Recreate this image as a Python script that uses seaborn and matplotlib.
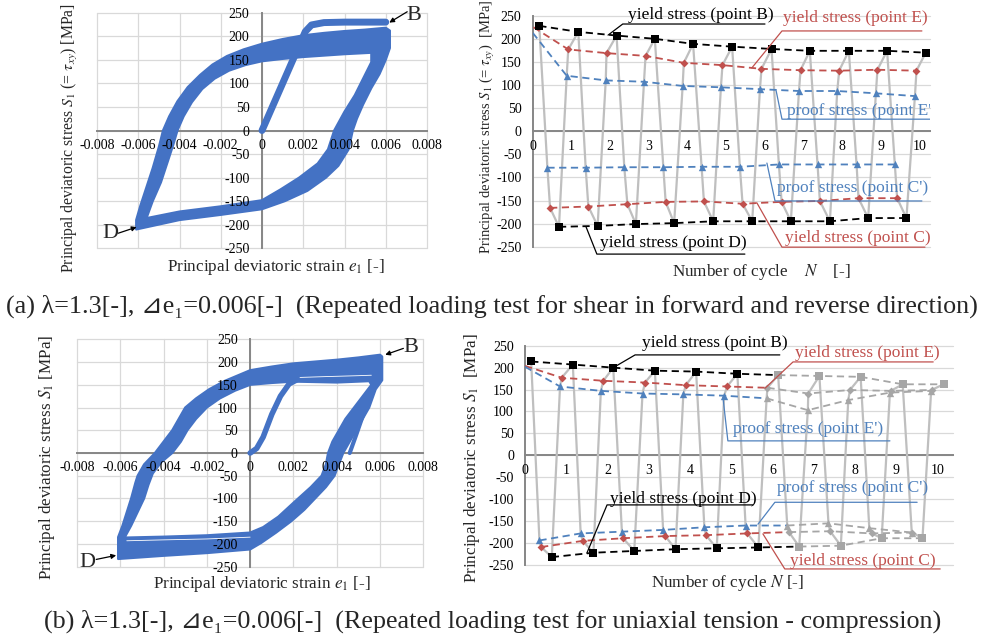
import numpy as np
import matplotlib
matplotlib.use("Agg")
import matplotlib.pyplot as plt
import seaborn as sns
from matplotlib.path import Path
from matplotlib.patches import PathPatch

sns.set_theme(style="white")
plt.rcParams["font.family"] = ["Liberation Serif", "DejaVu Serif", "DejaVu Sans", "Noto Sans CJK JP"]
plt.rcParams["mathtext.fontset"] = "stix"
plt.rcParams["axes.unicode_minus"] = False

# ---------------- data: hysteresis loops (strain e1 [-], stress S1 [MPa]) ----------------
strain_ticks = [-0.008, -0.006, -0.004, -0.002, 0.0, 0.002, 0.004, 0.006, 0.008]
stress_ticks = [-250, -200, -150, -100, -50, 0, 50, 100, 150, 200, 250]
cycle_ticks = [0, 1, 2, 3, 4, 5, 6, 7, 8, 9, 10]

# (a) shear: outer / inner edge of the band of cycles, first loading
a_outer_e = [-0.0061, -0.0061, -0.0059, -0.0056, -0.0053, -0.0050, -0.0048, -0.0045, -0.0041, -0.0036,
             -0.0030, -0.0024, -0.0017, -0.0009, 0.0000, 0.0010, 0.0020, 0.0030, 0.0040, 0.0050,
             0.0060, 0.0062, 0.0062, 0.0060, 0.0057, 0.0053, 0.0049, 0.0046, 0.0044, 0.0042,
             0.0037, 0.0031, 0.0022, 0.0011, 0.0000, -0.0020, -0.0040, -0.0061]
a_outer_s = [-210, -190, -160, -120, -80, -35, 0, 30, 62, 92,
             118, 140, 158, 172, 184, 194, 202, 207, 211, 214,
             218, 212, 175, 150, 120, 90, 55, 25, 0, -40,
             -75, -100, -128, -150, -167, -179, -190, -210]
a_inner_e = [-0.0056, -0.0053, -0.0049, -0.0046, -0.0043, -0.0041, -0.0038, -0.0034, -0.0029, -0.0023,
             -0.0016, -0.0008, 0.0000, 0.0010, 0.0020, 0.0030, 0.0040, 0.0053, 0.0053, 0.0049,
             0.0045, 0.0040, 0.0035, 0.0032, 0.0027, 0.0018, 0.0009, 0.0000, -0.0020, -0.0040, -0.0056]
a_inner_s = [-186, -150, -110, -70, -30, 0, 30, 60, 88, 110,
             127, 139, 147, 152, 156, 159, 162, 165, 145, 110,
             75, 40, 0, -40, -70, -100, -125, -148, -161, -172, -186]
a_first_e = [0.0, 0.0005, 0.0010, 0.0015, 0.0019, 0.0021, 0.0024, 0.0030, 0.0040, 0.0050, 0.0060]
a_first_s = [0, 50, 100, 150, 190, 210, 224, 229, 230, 230, 230]

# (b) tension-compression
b_outer_e = [-0.0061, -0.0061, -0.0059, -0.0057, -0.0055, -0.0053, -0.0052, -0.0049, -0.0044, -0.0040,
             -0.0036, -0.0033, -0.0030, -0.0025, -0.0019, -0.0012, -0.0006, 0.0000, 0.0010, 0.0020,
             0.0030, 0.0040, 0.0050, 0.0060, 0.0061, 0.0061, 0.0058, 0.0055, 0.0052, 0.0049,
             0.0046, 0.0043, 0.0041, 0.0039, 0.0035, 0.0030, 0.0025, 0.0019, 0.0012, 0.0005,
             0.0000, -0.0020, -0.0040, -0.0061]
b_outer_s = [-233, -185, -160, -130, -100, -65, -50, -25, 0, 25,
             50, 75, 100, 120, 140, 158, 170, 182, 190, 197,
             201, 205, 210, 216, 212, 160, 140, 100, 75, 50,
             25, 0, -25, -50, -75, -100, -125, -150, -175, -198,
             -212, -220, -226, -233]
b_inner_e = [-0.0058, -0.0055, -0.0052, -0.0049, -0.0047, -0.0045, -0.0041, -0.0036, -0.0032, -0.0029,
             -0.0025, -0.0020, -0.0014, -0.0007, 0.0000, 0.0010, 0.0020, 0.0030, 0.0040, 0.0055,
             0.0056, 0.0052, 0.0048, 0.0044, 0.0041, 0.0038, 0.0036, 0.0035, 0.0033, 0.0028,
             0.0021, 0.0013, 0.0006, 0.0000, -0.0020, -0.0040, -0.0058]
b_inner_s = [-186, -160, -130, -100, -70, -45, -20, 0, 25, 50,
             75, 100, 120, 137, 150, 154, 157, 156, 155, 158,
             150, 125, 100, 75, 50, 25, 0, -25, -50, -75,
             -105, -140, -163, -175, -181, -184, -186]
b_gap_lower_e = [-0.0057, -0.0040, -0.0020, 0.0000]
b_gap_lower_s = [-193, -191, -189, -185]
b_gap_upper_e = [0.0022, 0.0035, 0.0050, 0.0056]
b_gap_upper_s = [166, 168, 170, 171]
b_first_e = [0.0, 0.0003, 0.0006, 0.0010, 0.0014, 0.0018, 0.0022]
b_first_s = [0, 10, 35, 85, 125, 152, 162]
b_final_e = [0.0058, 0.0053, 0.0049, 0.0046]
b_final_s = [150, 95, 40, 0]

# ---------------- data: characteristic stresses vs. number of cycle ----------------
# (a)
a_B_N = [0.17, 1.18, 2.17, 3.16, 4.15, 5.16, 6.18, 7.17, 8.18, 9.17, 10.17]
a_B_S = [228, 215, 207, 200, 189, 183, 178, 174, 174, 174, 170]
a_E_N = [0.02, 0.92, 1.91, 2.92, 3.91, 4.91, 5.92, 6.93, 7.93, 8.92, 9.93]
a_E_S = [225, 177, 169, 163, 148, 143, 135, 132, 131, 133, 131]
a_Ep_N = [0.0, 0.88, 1.89, 2.88, 3.88, 4.87, 5.88, 6.89, 7.88, 8.88, 9.89]
a_Ep_S = [213, 120, 110, 107, 98, 95, 91, 87, 87, 82, 76]
a_Cp_N = [0.38, 1.37, 2.37, 3.38, 4.37, 5.36, 6.37, 7.37, 8.38, 9.37]
a_Cp_S = [-79, -79, -78, -78, -77, -77, -72, -72, -72, -72]
a_C_N = [0.45, 1.44, 2.45, 3.44, 4.43, 5.43, 6.44, 7.43, 8.43, 9.43]
a_C_S = [-166, -163, -158, -153, -152, -157, -153, -151, -145, -145]
a_D_N = [0.68, 1.68, 2.67, 3.66, 4.67, 5.68, 6.68, 7.69, 8.68, 9.67]
a_D_S = [-207, -205, -201, -199, -195, -195, -195, -195, -188, -188]
# (b)
b_B_N = [0.15, 1.16, 2.14, 3.15, 4.15, 5.15, 6.14, 7.14, 8.14, 9.16, 10.15]
b_B_S = [214, 207, 200, 193, 191, 186, 183, 181, 179, 162, 162]
b_E_N = [0.0, 0.89, 1.90, 2.91, 3.90, 4.90, 5.88, 6.87, 7.88, 8.87, 9.86]
b_E_S = [204, 177, 170, 166, 160, 157, 154, 141, 149, 147, 149]
b_Ep_N = [0.0, 0.85, 1.84, 2.85, 3.84, 4.83, 5.86, 6.86, 7.84, 8.85, 9.85]
b_Ep_S = [202, 157, 147, 141, 139, 136, 130, 103, 126, 143, 147]
b_Cp_N = [0.35, 1.35, 2.35, 3.35, 4.35, 5.35, 6.36, 7.36, 8.35, 9.38]
b_Cp_S = [-194, -178, -174, -170, -164, -160, -160, -155, -166, -176]
b_C_N = [0.39, 1.40, 2.38, 3.40, 4.39, 5.39, 6.40, 7.40, 8.41, 9.39]
b_C_S = [-209, -195, -189, -184, -182, -178, -175, -173, -178, -176]
b_D_N = [0.65, 1.66, 2.65, 3.65, 4.65, 5.66, 6.65, 7.66, 8.65, 9.64]
b_D_S = [-232, -222, -218, -214, -212, -210, -208, -206, -189, -189]
b_n_colored = 6   # points drawn in colour in (b); later cycles are grey

caption_a = "(a) \u03bb=1.3[-], \u22bfe\u2081=0.006[-]  (Repeated loading test for shear in forward and reverse direction)"
caption_b = "(b) \u03bb=1.3[-], \u22bfe\u2081=0.006[-]  (Repeated loading test for uniaxial tension - compression)"

# ---------------- styles ----------------
BAND = "#4472C4"
RED = "#C0504D"
BLUE = "#4F81BD"
GRAY = "#BFBFBF"
GRAYM = "#A6A6A6"
AXC = "#868686"
GRIDC = "#D9D9D9"
W, H = 984, 637

fig = plt.figure(figsize=(W / 100, H / 100), dpi=100)


def add_ax(x0, x1, y0, y1):
    return fig.add_axes([x0 / W, 1 - y1 / H, (x1 - x0) / W, (y1 - y0) / H])


axA1 = add_ax(97, 427, 12.7, 248.3)
axA2 = add_ax(532.7, 930, 15.7, 246.7)
axB1 = add_ax(77, 423.3, 339.3, 566.7)
axB2 = add_ax(525, 953, 345.7, 565)


def fmt_strain(v):
    return "0" if abs(v) < 1e-12 else f"{v:.3f}"


def common_style(ax):
    ax.set_ylim(-250, 250)
    ax.grid(False)
    for v in stress_ticks:
        ax.axhline(v, color=GRIDC, lw=0.9, zorder=0.5, clip_on=False)
    ax.set_yticks(stress_ticks)
    ax.set_yticklabels([str(v) for v in stress_ticks])
    for s in ["top", "right"]:
        ax.spines[s].set_visible(False)
    ax.spines["bottom"].set_position(("data", 0))
    for s in ["left", "bottom"]:
        ax.spines[s].set_color(AXC)
        ax.spines[s].set_linewidth(1.4)
        ax.spines[s].set_zorder(1)
    ax.tick_params(length=0, labelsize=10, labelcolor="black")
    ax.tick_params(axis="x", pad=6)
    ax.xaxis.set_zorder(5)
    ax.yaxis.set_zorder(5)
    ax.patch.set_alpha(0)


def style_loop(ax):
    common_style(ax)
    ax.set_xlim(-0.008, 0.008)
    for v in strain_ticks:
        ax.axvline(v, color=GRIDC, lw=0.9, zorder=0.5, clip_on=False)
    ax.set_xticks(strain_ticks)
    ax.set_xticklabels([fmt_strain(v) for v in strain_ticks])
    ax.spines["left"].set_position(("data", 0))
    ax.tick_params(axis="y", pad=9)


def style_cycle(ax, xmax):
    common_style(ax)
    ax.set_xlim(0, xmax)
    ax.set_xticks(cycle_ticks)
    ax.set_xticklabels([str(v) for v in cycle_ticks])
    ax.tick_params(axis="y", pad=8)


def band(ax, oe, os_, ie, is_):
    outer = np.column_stack([oe, os_])
    inner = np.column_stack([ie, is_])[::-1]
    verts = np.concatenate([outer, outer[:1], inner, inner[:1]])
    codes = ([Path.MOVETO] + [Path.LINETO] * (len(outer) - 1) + [Path.CLOSEPOLY]
             + [Path.MOVETO] + [Path.LINETO] * (len(inner) - 1) + [Path.CLOSEPOLY])
    ax.add_patch(PathPatch(Path(verts, codes), fc=BAND, ec=BAND, lw=1.6, joinstyle="round", zorder=2))


def line(ax, x, y, color, lw, ls="-", zorder=3):
    sns.lineplot(x=x, y=y, sort=False, estimator=None, ax=ax, color=color, lw=lw,
                 linestyle=ls, zorder=zorder, legend=False, solid_joinstyle="round")


def marks(ax, x, y, color, marker, size):
    sns.scatterplot(x=x, y=y, ax=ax, color=color, marker=marker, s=size, linewidth=0,
                    zorder=4, legend=False)


def arrow_label(ax, letter, tx, ty, tail, head):
    ax.text(tx, ty, letter, fontsize=16, ha="center", va="center", clip_on=False, zorder=6)
    ax.annotate("", xy=head, xytext=tail,
                arrowprops=dict(arrowstyle="-|>", color="black", lw=0.9, mutation_scale=7,
                                shrinkA=0, shrinkB=0), annotation_clip=False, zorder=6)


def callout(ax, text, color, tx, ty, ux0, ux1, uy, lx, ly, clip=False):
    ax.plot([lx, ux0, ux1], [ly, uy, uy], color=color, lw=0.9, clip_on=clip, zorder=6)
    ax.text(tx, ty, text, color=color, fontsize=12.5, ha="left", va="center", clip_on=clip, zorder=6)


def cycle_path(Bn, Bs, En, Es, EPn, EPs, CPn, CPs, Cn, Cs, Dn, Ds):
    xs, ys = [], []
    for k in range(len(Bn)):
        if k > 0:
            xs += [EPn[k], En[k]]
            ys += [EPs[k], Es[k]]
        xs.append(Bn[k])
        ys.append(Bs[k])
        if k < len(Dn):
            xs += [CPn[k], Cn[k], Dn[k]]
            ys += [CPs[k], Cs[k], Ds[k]]
    return xs, ys


SQ, DI, TR = 36, 16, 28

# ---------------- (a) left: loop ----------------
style_loop(axA1)
band(axA1, a_outer_e, a_outer_s, a_inner_e, a_inner_s)
line(axA1, a_first_e, a_first_s, BAND, 5)
arrow_label(axA1, "B", 0.00735, 245, (0.00704, 252), (0.00617, 229))
arrow_label(axA1, "D", -0.00737, -219, (-0.00697, -218), (-0.00608, -205))
axA1.text(0.542, -0.079, "Principal deviatoric strain $e_1$ [-]", transform=axA1.transAxes,
          ha="center", va="center", fontsize=12.3)
axA1.text(-0.082, 0.468, r"Principal deviatoric stress $S_1$ (= $\tau_{xy}$) [MPa]",
          transform=axA1.transAxes, ha="center", va="center", rotation=90, fontsize=11.3)

# ---------------- (b) left: loop ----------------
style_loop(axB1)
band(axB1, b_outer_e, b_outer_s, b_inner_e, b_inner_s)
line(axB1, b_gap_lower_e, b_gap_lower_s, "white", 0.6, zorder=2.5)
line(axB1, b_gap_upper_e, b_gap_upper_s, "white", 0.6, zorder=2.5)
line(axB1, b_first_e, b_first_s, BAND, 4)
line(axB1, b_final_e, b_final_s, BAND, 3)
arrow_label(axB1, "B", 0.00744, 232, (0.00708, 230), (0.00624, 216))
arrow_label(axB1, "D", -0.00751, -240, (-0.00711, -234), (-0.00619, -225))
axB1.text(0.533, -0.076, "Principal deviatoric strain $e_1$ [-]", transform=axB1.transAxes,
          ha="center", va="center", fontsize=12.3)
axB1.text(-0.087, 0.482, r"Principal deviatoric stress $S_1$ [MPa]",
          transform=axB1.transAxes, ha="center", va="center", rotation=90, fontsize=12.3)

# ---------------- (a) right: cycles ----------------
style_cycle(axA2, 10.28)
gx, gy = cycle_path(a_B_N, a_B_S, a_E_N, a_E_S, a_Ep_N, a_Ep_S, a_Cp_N, a_Cp_S, a_C_N, a_C_S, a_D_N, a_D_S)
line(axA2, gx, gy, GRAY, 1.6, zorder=2)
dash = (0, (4, 2.5))
line(axA2, a_B_N, a_B_S, "black", 1.3, dash)
marks(axA2, a_B_N, a_B_S, "black", "s", SQ)
line(axA2, a_E_N, a_E_S, RED, 1.3, dash)
marks(axA2, a_E_N[1:], a_E_S[1:], RED, "D", DI)
line(axA2, a_Ep_N, a_Ep_S, BLUE, 1.3, dash)
marks(axA2, a_Ep_N[1:], a_Ep_S[1:], BLUE, "^", TR)
line(axA2, a_Cp_N, a_Cp_S, BLUE, 1.3, dash)
marks(axA2, a_Cp_N, a_Cp_S, BLUE, "^", TR)
line(axA2, a_C_N, a_C_S, RED, 1.3, dash)
marks(axA2, a_C_N, a_C_S, RED, "D", DI)
line(axA2, a_D_N, a_D_S, "black", 1.3, dash)
marks(axA2, a_D_N, a_D_S, "black", "s", SQ)
callout(axA2, "yield stress (point B)", "black", 2.46, 251.5, 2.33, 6.01, 232, 1.95, 208)
callout(axA2, "yield stress (point E)", RED, 6.47, 245, 6.45, 10.07, 217, 5.67, 137)
callout(axA2, "proof stress (point E')", BLUE, 6.58, 43.5, 6.45, 10.28, 26, 6.30, 87, clip=True)
callout(axA2, "proof stress (point C')", BLUE, 6.32, -123, 6.27, 10.07, -151, 6.06, -69)
callout(axA2, "yield stress (point C)", RED, 6.52, -231, 6.45, 10.15, -251, 5.80, -155)
callout(axA2, "yield stress (point D)", "black", 1.74, -242, 1.66, 5.49, -266, 1.38, -207)
axA2.text(0.575, -0.11, r"Number of cycle    $N$    [-]", transform=axA2.transAxes,
          ha="center", va="center", fontsize=12.3)
axA2.text(-0.115, 0.52, r"Principal deviatoric stress $S_1$ (= $\tau_{xy}$)  [MPa]",
          transform=axA2.transAxes, ha="center", va="center", rotation=90, fontsize=10.5)

# ---------------- (b) right: cycles ----------------
style_cycle(axB2, 10.38)
gx, gy = cycle_path(b_B_N, b_B_S, b_E_N, b_E_S, b_Ep_N, b_Ep_S, b_Cp_N, b_Cp_S, b_C_N, b_C_S, b_D_N, b_D_S)
line(axB2, gx, gy, GRAY, 1.6, zorder=2)
n = b_n_colored
series_b = [
    (b_B_N, b_B_S, "black", "s", SQ, 0),
    (b_E_N, b_E_S, RED, "D", DI, 1),
    (b_Ep_N, b_Ep_S, BLUE, "^", TR, 1),
    (b_Cp_N, b_Cp_S, BLUE, "^", TR, 0),
    (b_C_N, b_C_S, RED, "D", DI, 0),
    (b_D_N, b_D_S, "black", "s", SQ, 0),
]
for xs, ys, col, mk, sz, first in series_b:
    line(axB2, xs[n:], ys[n:], GRAYM, 1.3, dash)
    marks(axB2, xs[n:], ys[n:], GRAYM, mk, sz)
    line(axB2, xs[:n + 1], ys[:n + 1], col, 1.3, dash)
    marks(axB2, xs[first:n], ys[first:n], col, mk, sz)
callout(axB2, "yield stress (point B)", "black", 2.84, 256, 2.67, 6.18, 229, 2.16, 201)
callout(axB2, "yield stress (point E)", RED, 6.55, 233, 6.50, 9.90, 213, 5.82, 153)
callout(axB2, "proof stress (point E')", BLUE, 5.04, 60, 4.92, 8.85, 33, 4.80, 133)
callout(axB2, "proof stress (point C')", BLUE, 6.11, -75, 6.06, 9.51, -107, 5.65, -157)
callout(axB2, "yield stress (point C)", RED, 6.43, -241, 6.30, 10.07, -259, 5.77, -179)
callout(axB2, "yield stress (point D)", "black", 2.06, -100, 1.99, 5.53, -113, 1.50, -223)
axB2.text(0.473, -0.082, r"Number of cycle $N$ [-]", transform=axB2.transAxes,
          ha="center", va="center", fontsize=12.3)
axB2.text(-0.124, 0.486, r"Principal deviatoric stress $S_1$  [MPa]",
          transform=axB2.transAxes, ha="center", va="center", rotation=90, fontsize=12.3)

# ---------------- captions ----------------
fig.text(492 / W, 1 - 306 / H, caption_a, ha="center", va="center", fontsize=18.8)
fig.text(493 / W, 1 - 621 / H, caption_b, ha="center", va="center", fontsize=18.8)

fig.savefig("out.png", dpi=100)
